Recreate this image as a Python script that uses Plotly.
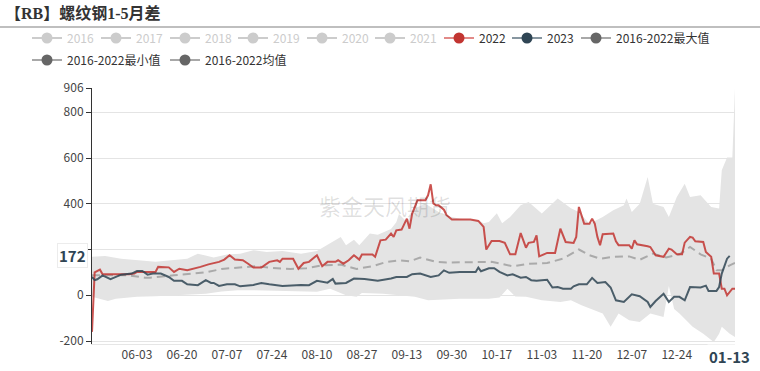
import pandas as pd
import plotly.graph_objects as go

# ---------------- data (day offsets from 2022-05-17) ----------------
start_date = "2022-05-17"
axis_days = 243
tick_days = [17, 34, 51, 68, 85, 102, 119, 136, 153, 170, 187, 204, 221]

red_days = [0, 1, 3, 4, 14, 16, 17, 24, 25, 29, 31, 33, 36, 39, 41, 44, 48, 50, 52, 54, 57, 59, 61,
            64, 67, 70, 71, 72, 76, 78, 80, 82, 85, 87, 89, 92, 93, 95, 97, 99, 101, 102, 106, 107,
            109, 111, 113, 114, 115, 117, 119, 120, 121, 123, 126, 127, 128, 129, 130, 131, 133, 134,
            136, 143, 146, 148, 149, 151, 154, 156, 158, 160, 162, 164, 165, 167, 168, 169, 172, 175,
            177, 179, 182, 183, 184, 186, 188, 189, 190, 191, 192, 193, 197, 198, 199, 203, 204, 205,
            206, 210, 211, 213, 216, 218, 219, 221, 223, 224, 226, 227, 228, 231, 232, 234, 235, 237,
            238, 239, 240, 242, 243]
red_vals = [-160, 100, 112, 92, 92, 95, 102, 102, 124, 122, 102, 116, 109, 116, 124, 135, 146, 156,
            175, 156, 153, 138, 121, 121, 146, 153, 146, 160, 160, 116, 141, 146, 175, 127, 146, 146,
            153, 138, 153, 175, 156, 178, 178, 168, 240, 243, 270, 255, 284, 287, 335, 291, 357, 415,
            415, 437, 485, 401, 393, 393, 374, 350, 331, 331, 325, 299, 200, 237, 237, 229, 179, 179,
            272, 208, 229, 233, 262, 170, 185, 185, 291, 233, 229, 255, 386, 313, 313, 335, 313, 255,
            219, 267, 270, 236, 219, 219, 204, 240, 223, 214, 211, 175, 168, 204, 200, 179, 179, 230,
            255, 252, 236, 233, 189, 168, 95, 95, 29, 29, 0, 29, 29]

dark_days = [0, 1, 2, 4, 7, 11, 15, 17, 19, 21, 23, 26, 29, 31, 34, 36, 40, 43, 45, 46, 48, 51, 54,
             56, 61, 64, 67, 72, 79, 82, 85, 89, 91, 92, 96, 99, 103, 108, 113, 115, 119, 121, 124,
             128, 131, 133, 135, 139, 145, 146, 147, 150, 152, 154, 157, 159, 162, 164, 166, 168, 170,
             172, 174, 176, 178, 181, 182, 184, 187, 189, 191, 194, 196, 198, 201, 204, 207, 210, 211,
             213, 216, 218, 220, 222, 224, 226, 230, 232, 233, 236, 237, 238, 240, 241]
dark_vals = [80, 66, 70, 87, 70, 90, 95, 106, 106, 90, 95, 95, 80, 63, 63, 48, 44, 66, 54, 54, 41, 48,
             48, 39, 45, 54, 48, 41, 45, 44, 63, 55, 71, 51, 54, 73, 71, 63, 73, 80, 80, 92, 95, 80, 87,
             109, 98, 102, 102, 121, 105, 118, 118, 102, 87, 92, 77, 80, 66, 63, 66, 68, 34, 36, 29, 29,
             39, 48, 48, 76, 54, 58, 34, -22, -29, 4, -4, -29, -51, -25, 7, -29, -7, -7, -22, 36, 34,
             42, 19, 19, 36, 95, 160, 172]

mean_days = [0, 7, 14, 20, 22, 31, 37, 43, 49, 56, 62, 68, 75, 81, 87, 94, 100, 106, 111, 116, 120,
             124, 130, 134, 147, 151, 159, 165, 172, 178, 184, 188, 192, 197, 203, 207, 212, 217, 222,
             226, 230, 234, 236, 238, 241, 243]
mean_vals = [87, 87, 87, 77, 77, 87, 92, 100, 115, 122, 127, 120, 115, 118, 131, 134, 115, 127, 145,
             153, 148, 165, 146, 143, 143, 146, 127, 138, 141, 160, 200, 175, 160, 168, 170, 155, 182,
             165, 179, 211, 179, 160, 109, 109, 131, 141]

max_days = [0, 5, 11, 17, 24, 30, 36, 40, 46, 51, 56, 61, 66, 72, 79, 85, 90, 94, 96, 99, 101, 105,
            108, 113, 115, 116, 119, 122, 126, 130, 133, 139, 146, 148, 150, 153, 155, 158, 162, 165,
            170, 176, 181, 184, 188, 193, 197, 201, 202, 204, 207, 210, 212, 216, 218, 221, 224, 226,
            230, 234, 237, 238, 240, 242, 243]
max_vals = [168, 172, 160, 153, 146, 153, 160, 182, 165, 178, 182, 197, 189, 194, 182, 194, 226, 255,
            219, 243, 219, 270, 265, 290, 319, 355, 320, 380, 400, 370, 350, 335, 328, 315, 320, 358,
            315, 342, 393, 408, 357, 423, 380, 364, 313, 342, 372, 393, 423, 364, 400, 517, 400, 386,
            342, 430, 488, 430, 437, 386, 379, 546, 602, 602, 906]

min_days = [0, 3, 6, 9, 17, 24, 31, 36, 43, 49, 55, 61, 72, 85, 90, 96, 100, 102, 110, 116, 122, 127,
            139, 150, 154, 157, 160, 164, 170, 177, 181, 185, 193, 196, 199, 203, 207, 211, 216, 218,
            220, 222, 227, 231, 235, 237, 238, 241, 243]
min_vals = [-7, -15, -25, -15, -7, -4, 0, 0, 7, 17, 22, 22, 19, 15, 29, 0, -7, 10, 7, 0, -7, -22,
            -15, -15, -10, 29, -5, -7, -22, -29, -22, -44, -80, -138, -80, -109, -117, -80, -95, 40,
            -60, -80, -138, -168, -204, -168, -138, -168, -182]

legend_names = ["2016", "2017", "2018", "2019", "2020", "2021", "2022", "2023",
                "2016-2022最大值", "2016-2022最小值", "2016-2022均值"]
pointer_day = 241
pointer_value = 172
y_min, y_max = -213, 906
y_ticks = [-200, 0, 200, 400, 600, 800, 906]
y_ticktext = ["-200", "0", "", "400", "600", "800", "906"]

# ---------------- layout constants (pixels) ----------------
W, H = 760, 371
ml, mr, mt, mb = 92, 25, 88, 27
pw = W - ml - mr
ph = H - mt - mb
# legend entry text start (x px) and row centre (y px)
legend_pos = [(67, 38), (136, 38), (205, 38), (273, 38), (342, 38), (410, 38), (479, 38),
              (547, 38), (616, 38), (67, 60), (205, 60)]

start = pd.Timestamp(start_date)


def to_dates(days):
    return [start + pd.Timedelta(days=int(d)) for d in days]


RED = "#c23531"
DARK = "#2f4554"
FONT = "Noto Sans CJK SC, Microsoft YaHei, sans-serif"

fig = go.Figure()

grey = ("#cccccc", "#cccccc", "#cccccc")
leg_style = {
    "2016": grey, "2017": grey, "2018": grey, "2019": grey, "2020": grey, "2021": grey,
    "2022": (RED, "#e28a88", "#333333"),
    "2023": (DARK, "#8796a0", "#333333"),
    "2016-2022最大值": ("#666666", "#a8a8a8", "#333333"),
    "2016-2022最小值": ("#666666", "#a8a8a8", "#333333"),
    "2016-2022均值": ("#666666", "#a8a8a8", "#333333"),
}
legend_layout = {}
for i, nm in enumerate(legend_names):
    key = "legend" if i == 0 else "legend%d" % (i + 1)
    mk, ln, tx = leg_style[nm]
    fig.add_trace(go.Scatter(
        x=[None], y=[None], mode="lines+markers",
        name=f"<span style='color:{tx}'>{nm}</span>",
        marker=dict(color=mk, size=11),
        line=dict(color=ln, width=2),
        showlegend=True, legend=key, hoverinfo="skip"))
    tx_px, ty_px = legend_pos[i]
    legend_layout[key] = dict(orientation="h", xref="container", yref="container",
                              x=(tx_px - 40) / W, y=1 - ty_px / H, xanchor="left",
                              yanchor="middle", font=dict(size=12, family=FONT), itemwidth=30,
                              bgcolor="rgba(0,0,0,0)", borderwidth=0)

# band (min -> max)
fig.add_trace(go.Scatter(x=to_dates(min_days), y=min_vals, mode="lines",
                         line=dict(width=0, color="rgba(0,0,0,0)"), showlegend=False,
                         hoverinfo="skip"))
fig.add_trace(go.Scatter(x=to_dates(max_days), y=max_vals, mode="lines",
                         line=dict(width=0, color="rgba(0,0,0,0)"), fill="tonexty",
                         fillcolor="rgb(228,228,228)", showlegend=False, hoverinfo="skip"))
# mean
fig.add_trace(go.Scatter(x=to_dates(mean_days), y=mean_vals, mode="lines",
                         line=dict(color="#aaaaaa", width=2, dash="8px,5px"),
                         showlegend=False))
# 2022
fig.add_trace(go.Scatter(x=to_dates(red_days), y=red_vals, mode="lines",
                         line=dict(color="rgba(194,53,49,0.85)", width=2), showlegend=False))
# 2023
fig.add_trace(go.Scatter(x=to_dates(dark_days), y=dark_vals, mode="lines",
                         line=dict(color="rgba(47,69,84,0.85)", width=2), showlegend=False))

x_range = [start, start + pd.Timedelta(days=axis_days)]
tick_dates = to_dates(tick_days)
zero_pos = (0 - y_min) / (y_max - y_min)

fig.update_layout(
    width=W, height=H,
    margin=dict(l=ml, r=mr, t=mt, b=mb, pad=0, autoexpand=False),
    plot_bgcolor="white", paper_bgcolor="white",
    font=dict(family=FONT, size=12, color="#333"),
    title=dict(text="<b>【RB】螺纹钢1-5月差</b>", x=5 / W, xanchor="left",
               y=1 - 13 / H, yanchor="middle", xref="container", yref="container",
               font=dict(family="Liberation Serif, Noto Sans CJK SC", size=16, color="#333")),
    xaxis=dict(type="date", range=x_range, tickvals=tick_dates, tickformat="%m-%d",
               showgrid=False, ticks="", showline=True, linecolor="#e6e6e6", linewidth=1,
               tickfont=dict(size=12, color="#444"), zeroline=False),
    xaxis2=dict(type="date", range=x_range, overlaying="x", anchor="free", position=zero_pos,
                side="bottom", tickvals=tick_dates, showticklabels=False, ticks="outside",
                ticklen=5, tickcolor="#333", showline=True, linecolor="#333", linewidth=1,
                showgrid=False, zeroline=False),
    yaxis=dict(range=[y_min, y_max], tickvals=y_ticks, ticktext=y_ticktext, showgrid=True,
               gridcolor="#e4e4e4", gridwidth=1, zeroline=False, showline=True,
               linecolor="#333", linewidth=1, ticks="outside", ticklen=5, tickcolor="#333",
               tickfont=dict(size=12, color="#444")),
    hovermode=False,
    **legend_layout,
)

# separator line under the title
fig.add_shape(type="line", xref="paper", yref="paper",
              x0=-ml / pw, x1=(W - ml) / pw, y0=(H - mb - 27) / ph, y1=(H - mb - 27) / ph,
              line=dict(color="#aaaaaa", width=1.5))

# watermark
fig.add_annotation(text="紫金天风期货", xref="paper", yref="paper", x=0.455, y=(H - mb - 205) / ph,
                   showarrow=False, font=dict(size=22, color="rgba(0,0,0,0.13)", family=FONT))

# axis pointer labels
fig.add_annotation(text="<b>%d</b>" % pointer_value, xref="paper", yref="y", x=0, y=pointer_value,
                   xanchor="right", xshift=-4, showarrow=False, bgcolor="white",
                   bordercolor="#ececec", borderwidth=1, borderpad=1,
                   font=dict(size=15, color=DARK, family=FONT))
fig.add_annotation(text="<b>%s</b>" % (start + pd.Timedelta(days=pointer_day)).strftime("%m-%d"),
                   xref="x", yref="paper", x=start + pd.Timedelta(days=pointer_day),
                   y=(H - mb - 356) / ph, yanchor="middle", showarrow=False,
                   bgcolor="white", font=dict(size=15, color=DARK, family=FONT))

fig.write_html("out.html",
               config={"displayModeBar": False},
               post_script="document.body.style.margin='0';"
                           "document.body.style.overflow='hidden';")
